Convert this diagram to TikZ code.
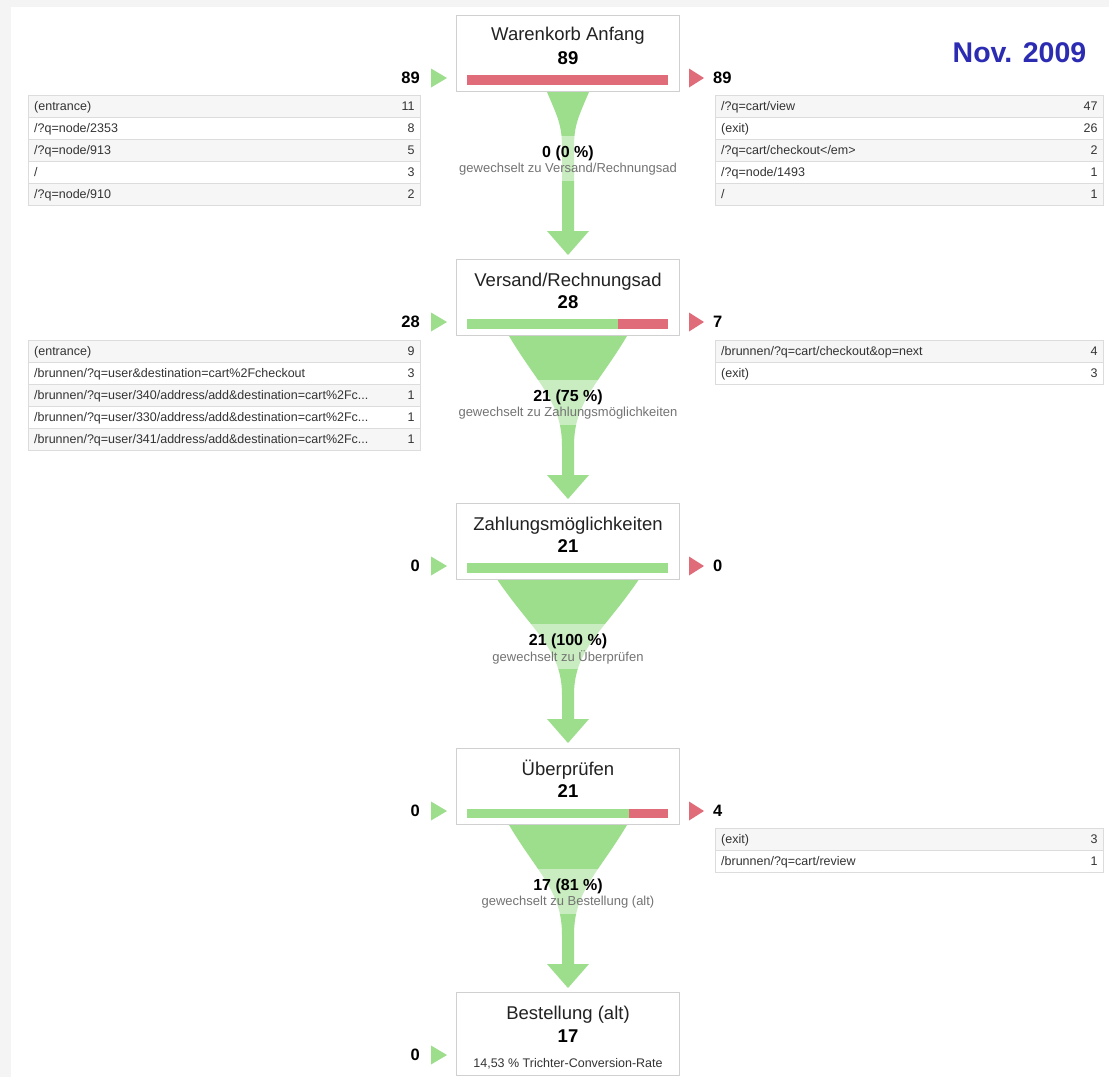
\documentclass[tikz,border=0pt]{standalone}
\usepackage{fontspec}
\setmainfont{Liberation Sans}
\usetikzlibrary{calc}
\definecolor{fgreen}{RGB}{157,222,141}
\definecolor{fred}{RGB}{224,108,122}
\definecolor{bggrey}{RGB}{244,244,244}
\definecolor{boxline}{RGB}{208,208,208}
\definecolor{rowline}{RGB}{220,220,220}
\definecolor{rowshade}{RGB}{246,246,246}
\definecolor{rowtxt}{RGB}{51,51,51}
\definecolor{subtxt}{RGB}{115,115,115}
\definecolor{titletxt}{RGB}{34,34,34}
\definecolor{novblue}{RGB}{44,44,178}
\tikzset{
  stepbox/.style={draw=boxline, line width=1pt, fill=white, minimum width=223pt, minimum height=76pt, anchor=north west, inner sep=0pt},
  titletext/.style={font=\fontsize{18.5}{20}\selectfont, text=titletxt, inner sep=0pt},
  boxnum/.style={font=\fontsize{18.5}{20}\selectfont\bfseries, text=black, inner sep=0pt},
  sidenum/.style={font=\fontsize{16.5}{18}\selectfont\bfseries, text=black, inner sep=0pt},
  flabel/.style={font=\fontsize{16}{18}\selectfont\bfseries, text=black, inner sep=0pt},
  fsub/.style={font=\fontsize{13}{15}\selectfont, text=subtxt, inner sep=0pt},
  rowcell/.style={draw=rowline, line width=0.8pt, inner sep=0pt, minimum height=22pt, anchor=north west},
  rowtext/.style={font=\fontsize{12.5}{14}\selectfont, text=rowtxt, inner sep=0pt, anchor=base west},
  rownum/.style={font=\fontsize{12.5}{14}\selectfont, text=rowtxt, inner sep=0pt, anchor=base east},
  smalltxt/.style={font=\fontsize{12.5}{14}\selectfont, text=rowtxt, inner sep=0pt},
  bandwhite/.style={fill=white, opacity=0.45}
}
% row: #1 name, #2 x left, #3 width, #4 y top, #5 fill, #6 text, #7 number
\newcommand{\trow}[7]{%
  \node[rowcell, fill=#5, minimum width=#3pt] (#1) at (#2,#4) {};
  \node[rowtext] (#1t) at ($(#1.north west)+(6,15.5)$) {#6};
  \node[rownum] (#1n) at ($(#1.north east)+(-6,15.5)$) {#7};
}
% funnel: #1 box name, #2 top half width, #3 curve length
\newcommand{\funnelshape}[3]{%
  \fill[fgreen] ($(#1.south)+(-#2,0)$)
    .. controls ($(#1.south)+(-#2*0.5,#3*0.45)$) and ($(#1.south)+(-6,#3*0.6)$) .. ($(#1.south)+(-6,#3)$)
    -- ($(#1.south)+(-6,139)$) -- ($(#1.south)+(-21,139)$) -- ($(#1.south)+(0,163)$)
    -- ($(#1.south)+(21,139)$) -- ($(#1.south)+(6,139)$) -- ($(#1.south)+(6,#3)$)
    .. controls ($(#1.south)+(6,#3*0.6)$) and ($(#1.south)+(#2*0.5,#3*0.45)$) .. ($(#1.south)+(#2,0)$) -- cycle;
  \fill[bandwhite] ($(#1.south)+(-80,44)$) rectangle ($(#1.south)+(80,89)$);
}
% side markers
\newcommand{\inmarker}[2]{%
  \fill[fgreen] ($(#1.north west)+(-25,53.5)$) -- ($(#1.north west)+(-25,72.5)$) -- ($(#1.north west)+(-9,63)$) -- cycle;
  \node[sidenum, anchor=east] (#1l) at ($(#1.north west)+(-36,63)$) {#2};
}
\newcommand{\outmarker}[2]{%
  \fill[fred] ($(#1.north east)+(9,53.5)$) -- ($(#1.north east)+(9,72.5)$) -- ($(#1.north east)+(24,63)$) -- cycle;
  \node[sidenum, anchor=west] (#1r) at ($(#1.north east)+(33,63)$) {#2};
}
\begin{document}
\begin{tikzpicture}[x=1pt,y=-1pt]
\useasboundingbox (0,0) rectangle (1109,1077);
\fill[bggrey] (0,0) rectangle (1109,1077);
\fill[white] (11,7) rectangle (1109,1077);

% boxes (placed first as coordinates, funnels drawn beneath)
\node[stepbox] (b1) at (456,15) {};
\node[stepbox] (b2) at (456,259) {};
\node[stepbox] (b3) at (456,503) {};
\node[stepbox] (b4) at (456,748) {};
\node[stepbox, minimum height=83pt] (b5) at (456,992) {};

% funnels
\funnelshape{b1}{21}{55}
\funnelshape{b2}{59}{110}
\funnelshape{b3}{70.5}{115}
\funnelshape{b4}{59}{110}

% redraw boxes on top
\node[stepbox] (b1x) at (456,15) {};
\node[stepbox] (b2x) at (456,259) {};
\node[stepbox] (b3x) at (456,503) {};
\node[stepbox] (b4x) at (456,748) {};
\node[stepbox, minimum height=83pt] (b5x) at (456,992) {};

% box contents
\node[titletext] (b1t) at ($(b1.north)+(0,21)$) {Warenkorb Anfang};
\node[boxnum] (b1n) at ($(b1.north)+(0,43)$) {89};
\fill[fred] ($(b1.north west)+(11,60)$) rectangle ($(b1.north west)+(212,70)$);

\node[titletext] (b2t) at ($(b2.north)+(0,22.5)$) {Versand/Rechnungsad};
\node[boxnum] (b2n) at ($(b2.north)+(0,43.5)$) {28};
\fill[fgreen] ($(b2.north west)+(11,60)$) rectangle ($(b2.north west)+(162,70)$);
\fill[fred] ($(b2.north west)+(162,60)$) rectangle ($(b2.north west)+(212,70)$);

\node[titletext] (b3t) at ($(b3.north)+(0,22.5)$) {Zahlungsmöglichkeiten};
\node[boxnum] (b3n) at ($(b3.north)+(0,43.5)$) {21};
\fill[fgreen] ($(b3.north west)+(11,60)$) rectangle ($(b3.north west)+(212,70)$);

\node[titletext] (b4t) at ($(b4.north)+(0,21.5)$) {Überprüfen};
\node[boxnum] (b4n) at ($(b4.north)+(0,43.5)$) {21};
\fill[fgreen] ($(b4.north west)+(11,61)$) rectangle ($(b4.north west)+(173,70)$);
\fill[fred] ($(b4.north west)+(173,61)$) rectangle ($(b4.north west)+(212,70)$);

\node[titletext] (b5t) at ($(b5.north)+(0,23)$) {Bestellung (alt)};
\node[boxnum] (b5n) at ($(b5.north)+(0,44)$) {17};
\node[smalltxt] (b5s) at ($(b5.north)+(0,71.5)$) {14,53 \% Trichter-Conversion-Rate};

% funnel labels
\node[flabel] (f1n) at ($(b1.south)+(0,61)$) {0 (0 \%)};
\node[fsub] (f1s) at ($(b1.south)+(0,77.5)$) {gewechselt zu Versand/Rechnungsad};
\node[flabel] (f2n) at ($(b2.south)+(0,61)$) {21 (75 \%)};
\node[fsub] (f2s) at ($(b2.south)+(0,77.5)$) {gewechselt zu Zahlungsmöglichkeiten};
\node[flabel] (f3n) at ($(b3.south)+(0,61)$) {21 (100 \%)};
\node[fsub] (f3s) at ($(b3.south)+(0,77.5)$) {gewechselt zu Überprüfen};
\node[flabel] (f4n) at ($(b4.south)+(0,61)$) {17 (81 \%)};
\node[fsub] (f4s) at ($(b4.south)+(0,77.5)$) {gewechselt zu Bestellung (alt)};

% side markers
\inmarker{b1}{89}\outmarker{b1}{89}
\inmarker{b2}{28}\outmarker{b2}{7}
\inmarker{b3}{0}\outmarker{b3}{0}
\inmarker{b4}{0}\outmarker{b4}{4}
\inmarker{b5}{0}

% tables step 1
\trow{la1}{28}{392}{95}{rowshade}{(entrance)}{11}
\trow{la2}{28}{392}{117}{white}{/?q=node/2353}{8}
\trow{la3}{28}{392}{139}{rowshade}{/?q=node/913}{5}
\trow{la4}{28}{392}{161}{white}{/}{3}
\trow{la5}{28}{392}{183}{rowshade}{/?q=node/910}{2}

\trow{ra1}{715}{388}{95}{rowshade}{/?q=cart/view}{47}
\trow{ra2}{715}{388}{117}{white}{(exit)}{26}
\trow{ra3}{715}{388}{139}{rowshade}{/?q=cart/checkout</em>}{2}
\trow{ra4}{715}{388}{161}{white}{/?q=node/1493}{1}
\trow{ra5}{715}{388}{183}{rowshade}{/}{1}

% tables step 2
\trow{lb1}{28}{392}{340}{rowshade}{(entrance)}{9}
\trow{lb2}{28}{392}{362}{white}{/brunnen/?q=user\&destination=cart\%2Fcheckout}{3}
\trow{lb3}{28}{392}{384}{rowshade}{/brunnen/?q=user/340/address/add\&destination=cart\%2Fc...}{1}
\trow{lb4}{28}{392}{406}{white}{/brunnen/?q=user/330/address/add\&destination=cart\%2Fc...}{1}
\trow{lb5}{28}{392}{428}{rowshade}{/brunnen/?q=user/341/address/add\&destination=cart\%2Fc...}{1}

\trow{rb1}{715}{388}{340}{rowshade}{/brunnen/?q=cart/checkout\&op=next}{4}
\trow{rb2}{715}{388}{362}{white}{(exit)}{3}

% table step 4
\trow{rd1}{715}{388}{828}{rowshade}{(exit)}{3}
\trow{rd2}{715}{388}{850}{white}{/brunnen/?q=cart/review}{1}

% date
\node[font=\fontsize{28.5}{30}\selectfont\bfseries, text=novblue, inner sep=0pt] (date) at (1019.5,53) {Nov. 2009};
\end{tikzpicture}
\end{document}
